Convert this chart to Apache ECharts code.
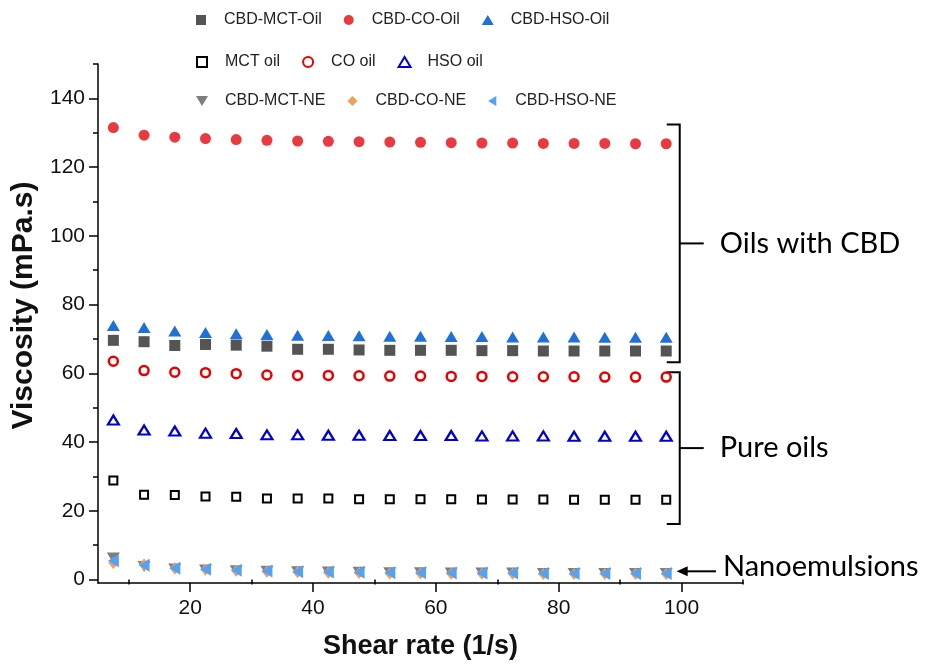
<!DOCTYPE html>
<html>
<head>
<meta charset="utf-8">
<title>Viscosity vs shear rate</title>
<script src="https://cdn.jsdelivr.net/npm/echarts@6/dist/echarts.min.js"></script>
<style>
    html, body { margin: 0; padding: 0; background: #fff; }
    #chart { width: 934px; height: 666px; }
</style>
</head>
<body>
<div id="chart"></div>
<script>
// shear rate (1/s)
var shearRate = [7.5, 12.5, 17.5, 22.5, 27.5, 32.5, 37.5, 42.5, 47.5, 52.5, 57.5, 62.5, 67.5, 72.5, 77.5, 82.5, 87.5, 92.5, 97.5];

// oils with CBD
var cbdMctOil = [69.6, 69.2, 68.1, 68.4, 68.2, 67.9, 67.0, 67.0, 66.8, 66.7, 66.7, 66.7, 66.6, 66.6, 66.5, 66.5, 66.5, 66.5, 66.5];
var cbdCoOil = [131.5, 129.3, 128.7, 128.3, 128.0, 127.8, 127.6, 127.5, 127.4, 127.3, 127.2, 127.1, 127.0, 127.0, 126.9, 126.9, 126.9, 126.8, 126.8];
var cbdHsoOil = [73.9, 73.3, 72.3, 71.9, 71.5, 71.3, 71.1, 71.0, 70.9, 70.8, 70.8, 70.7, 70.7, 70.6, 70.6, 70.6, 70.5, 70.5, 70.5];

// pure oils
var mctOil = [28.8, 24.7, 24.6, 24.2, 24.1, 23.6, 23.6, 23.6, 23.4, 23.4, 23.4, 23.4, 23.3, 23.3, 23.3, 23.2, 23.2, 23.2, 23.2];
var coOil = [63.5, 60.8, 60.3, 60.2, 59.9, 59.5, 59.4, 59.4, 59.3, 59.2, 59.2, 59.1, 59.1, 59.0, 59.0, 59.0, 58.9, 58.9, 58.9];
var hsoOil = [46.4, 43.5, 43.2, 42.6, 42.5, 42.1, 42.1, 42.0, 42.0, 41.9, 41.9, 41.9, 41.8, 41.8, 41.8, 41.7, 41.7, 41.7, 41.7];

// nanoemulsions
var cbdMctNe = [6.3, 3.8, 3.1, 2.8, 2.6, 2.4, 2.3, 2.2, 2.1, 2.0, 2.0, 1.9, 1.9, 1.9, 1.8, 1.8, 1.8, 1.8, 1.8];
var cbdCoNe = [4.8, 4.4, 3.3, 2.9, 2.6, 2.3, 2.1, 2.0, 1.9, 1.8, 1.8, 1.7, 1.7, 1.7, 1.6, 1.6, 1.6, 1.6, 1.6];
var cbdHsoNe = [5.5, 4.2, 3.3, 3.0, 2.7, 2.5, 2.3, 2.2, 2.1, 2.0, 2.0, 1.9, 1.9, 1.9, 1.8, 1.8, 1.8, 1.8, 1.8];

// axis ticks
var xMajorTicks = [20, 40, 60, 80, 100];
var xMinorTicks = [10, 30, 50, 70, 90, 110];
var yMajorTicks = [0, 20, 40, 60, 80, 100, 120, 140];
var yMinorTicks = [10, 30, 50, 70, 90, 110, 130, 150];

// legend rows
var legendRow1 = ['CBD-MCT-Oil', 'CBD-CO-Oil', 'CBD-HSO-Oil'];
var legendRow2 = ['MCT oil', 'CO oil', 'HSO oil'];
var legendRow3 = ['CBD-MCT-NE', 'CBD-CO-NE', 'CBD-HSO-NE'];

// group annotations (data coords)
var brackets = [
    {x: 99.7, top: 132.4, bottom: 63.2, label: 'Oils with CBD'},
    {x: 99.7, top: 60.3, bottom: 16.2, label: 'Pure oils'}
];
var arrowNote = {from: 105.6, to: 99.2, y: 2.4, label: 'Nanoemulsions'};

var SQUARE = 'path://M0,0L10,0L10,10L0,10Z';
var TRI_UP = 'path://M0,10L6,0L12,10Z';
var TRI_DOWN = 'path://M0,0L12,0L6,10Z';
var TRI_LEFT = 'path://M10,0L10,12L0,6Z';
var DIAMOND = 'path://M5,0L10,6L5,12L0,6Z';
var ICON_DIAMOND = 'path://M5,0L10,5L5,10L0,5Z';
var ICON_LEFT = 'path://M9,0L9,11L0,5.5Z';

function pairs(ys) {
    return shearRate.map(function (x, i) { return [x, ys[i]]; });
}

function filled(name, ys, symbol, size, color) {
    return {
        name: name, type: 'scatter', data: pairs(ys),
        symbol: symbol, symbolSize: size,
        itemStyle: {color: color, opacity: 1},
        emphasis: {disabled: true}
    };
}

function hollow(name, ys, symbol, size, color, bw) {
    return {
        name: name, type: 'scatter', data: pairs(ys),
        symbol: symbol, symbolSize: size,
        itemStyle: {color: '#fff', borderColor: color, borderWidth: bw, opacity: 1},
        emphasis: {disabled: true}
    };
}

function legend(items, top) {
    return {
        data: items, left: 196, top: top, padding: 0,
        itemWidth: 36, itemHeight: 10, itemGap: 22,
        selectedMode: false,
        textStyle: {fontFamily: 'Liberation Sans', fontSize: 16, color: '#222', lineHeight: 16}
    };
}

var gridBox = {left: 98, right: 191, top: 64, bottom: 83, containLabel: false, outerBoundsMode: 'none'};
var axisFont = {fontFamily: 'Liberation Sans', fontSize: 21, color: '#111'};
var titleFont = {fontFamily: 'Liberation Sans', fontWeight: 'bold', color: '#111'};

var chart = echarts.init(document.getElementById('chart'));
chart.setOption({
    backgroundColor: '#fff',
    animation: false,
    legend: [
        legend(legendRow1, 12),
        legend(legendRow2, 54),
        legend([legendRow3[0], {name: legendRow3[1], icon: ICON_DIAMOND}, {name: legendRow3[2], icon: ICON_LEFT}], 93)
    ],
    grid: [
        Object.assign({}, gridBox),
        Object.assign({}, gridBox)   // second grid only carries the minor ticks
    ],
    xAxis: [
        {
            type: 'value', gridIndex: 0, min: 5, max: 110,
            name: 'Shear rate (1/s)', nameLocation: 'middle', nameGap: 50,
            nameTextStyle: Object.assign({fontSize: 27}, titleFont),
            axisLine: {onZero: false, lineStyle: {color: '#000', width: 1.5}},
            axisTick: {customValues: xMajorTicks, length: 9, lineStyle: {color: '#000', width: 1.5}},
            axisLabel: Object.assign({customValues: xMajorTicks, margin: 15}, axisFont),
            splitLine: {show: false}
        },
        {
            type: 'value', gridIndex: 1, min: 5, max: 110,
            axisLine: {show: false},
            axisTick: {customValues: xMinorTicks, length: 5, lineStyle: {color: '#000', width: 1.5}},
            axisLabel: {show: false},
            splitLine: {show: false}
        }
    ],
    yAxis: [
        {
            type: 'value', gridIndex: 0, min: -1, max: 150,
            name: 'Viscosity (mPa.s)', nameLocation: 'middle', nameGap: 54, nameRotate: 90,
            nameTextStyle: Object.assign({fontSize: 30, padding: [0, 0, 0, 36]}, titleFont),
            axisLine: {show: true, onZero: false, lineStyle: {color: '#000', width: 1.5}},
            axisTick: {show: true, customValues: yMajorTicks, length: 9, lineStyle: {color: '#000', width: 1.5}},
            axisLabel: Object.assign({customValues: yMajorTicks, margin: 13}, axisFont),
            splitLine: {show: false}
        },
        {
            type: 'value', gridIndex: 1, min: -1, max: 150,
            axisLine: {show: false},
            axisTick: {show: true, customValues: yMinorTicks, length: 5, lineStyle: {color: '#000', width: 1.5}},
            axisLabel: {show: false},
            splitLine: {show: false}
        }
    ],
    series: [
        filled('CBD-MCT-Oil', cbdMctOil, SQUARE, [11, 11], '#545454'),
        filled('CBD-CO-Oil', cbdCoOil, 'circle', 11, '#EB3A3F'),
        filled('CBD-HSO-Oil', cbdHsoOil, TRI_UP, [13, 11], '#1F71D8'),
        hollow('MCT oil', mctOil, SQUARE, [8, 8], '#000', 2),
        hollow('CO oil', coOil, 'circle', 9, '#E80000', 2.5),
        hollow('HSO oil', hsoOil, TRI_UP, [11, 9], '#0000D2', 2.2),
        filled('CBD-MCT-NE', cbdMctNe, TRI_DOWN, [13, 11], '#7E7E7E'),
        filled('CBD-CO-NE', cbdCoNe, DIAMOND, [10, 12], '#F59E58'),
        filled('CBD-HSO-NE', cbdHsoNe, TRI_LEFT, [11, 13], '#55A2F2')
    ]
});

// brackets / arrow annotations, placed through the axis scale
function px(x, y) {
    return chart.convertToPixel({gridIndex: 0}, [x, y]);
}
var labelFont = {fontFamily: 'Lato', fontSize: 29, fill: '#000'};
var graphics = [];
brackets.forEach(function (b) {
    var t = px(b.x, b.top), btm = px(b.x, b.bottom), mid = px(b.x, (b.top + b.bottom) / 2);
    graphics.push({
        type: 'polyline', silent: true,
        shape: {points: [[t[0] - 13, t[1]], [t[0], t[1]], [btm[0], btm[1]], [btm[0] - 13, btm[1]]]},
        style: {stroke: '#000', lineWidth: 2, fill: null}
    });
    graphics.push({
        type: 'line', silent: true,
        shape: {x1: mid[0], y1: mid[1], x2: mid[0] + 24, y2: mid[1]},
        style: {stroke: '#000', lineWidth: 2}
    });
    graphics.push({
        type: 'text', silent: true, x: mid[0] + 40, y: mid[1],
        style: Object.assign({text: b.label, verticalAlign: 'middle'}, labelFont)
    });
});
var a0 = px(arrowNote.from, arrowNote.y), a1 = px(arrowNote.to, arrowNote.y);
graphics.push({
    type: 'line', silent: true,
    shape: {x1: a0[0], y1: a0[1], x2: a1[0] + 8, y2: a1[1]},
    style: {stroke: '#000', lineWidth: 2}
});
graphics.push({
    type: 'polygon', silent: true,
    shape: {points: [[a1[0], a1[1]], [a1[0] + 11, a1[1] - 5], [a1[0] + 11, a1[1] + 5]]},
    style: {fill: '#000'}
});
graphics.push({
    type: 'text', silent: true, x: a0[0] + 7, y: a0[1] - 5,
    style: Object.assign({text: arrowNote.label, verticalAlign: 'middle'}, labelFont)
});
chart.setOption({graphic: graphics});
</script>
</body>
</html>
